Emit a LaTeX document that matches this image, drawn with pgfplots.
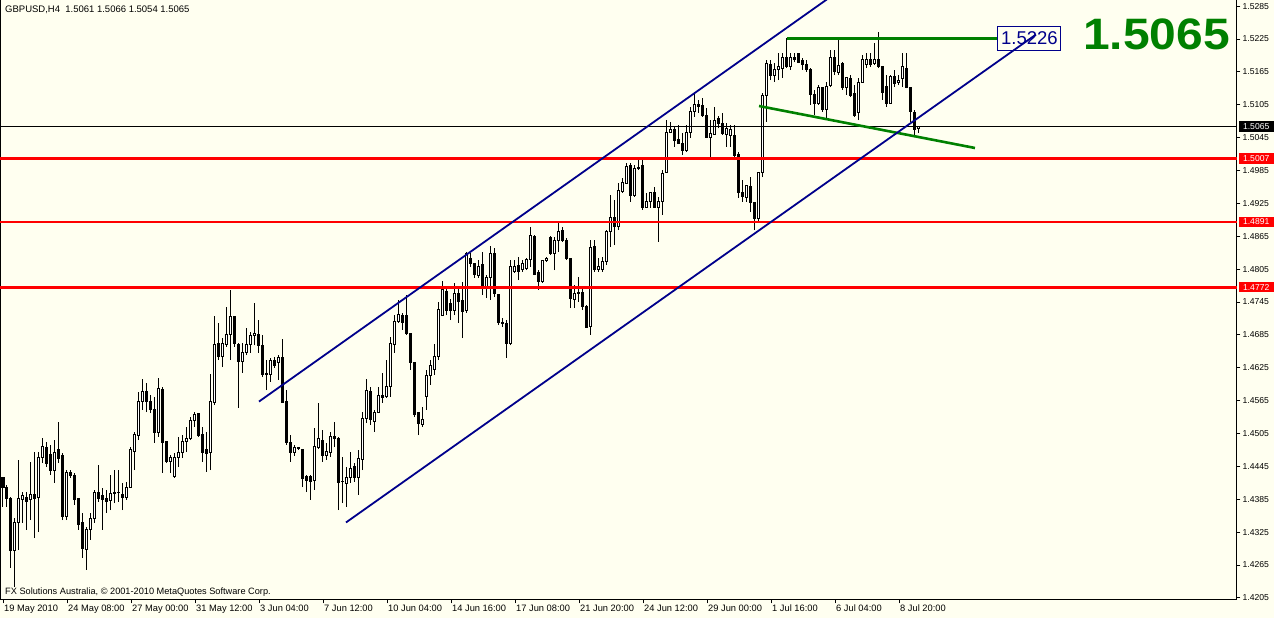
\documentclass[border=0pt]{standalone}
\usepackage{pgfplots}
\pgfplotsset{compat=1.18}
\usepackage{pgfplotstable}
\usepackage{fontspec}
\setmainfont{Liberation Sans}
\definecolor{bgc}{RGB}{255,255,240}
\definecolor{chan}{RGB}{0,0,139}
\definecolor{grn}{RGB}{0,128,0}

\pgfplotstableread{
i o h l c
0 1.4424 1.4426 1.4371 1.4406
1 1.4407 1.4411 1.4371 1.4386
2 1.4386 1.4389 1.4260 1.4291
3 1.4291 1.4351 1.4225 1.4342
4 1.4342 1.4457 1.4292 1.4387
5 1.4384 1.4398 1.4342 1.4391
6 1.4389 1.4398 1.4329 1.4380
7 1.4384 1.4453 1.4347 1.4393
8 1.4393 1.4471 1.4314 1.4386
9 1.4389 1.4471 1.4325 1.4462
10 1.4462 1.4497 1.4451 1.4482
11 1.4480 1.4490 1.4444 1.4451
12 1.4466 1.4484 1.4429 1.4438
13 1.4438 1.4493 1.4415 1.4471
14 1.4475 1.4526 1.4451 1.4460
15 1.4464 1.4470 1.4347 1.4353
16 1.4353 1.4438 1.4347 1.4433
17 1.4433 1.4438 1.4424 1.4429
18 1.4429 1.4433 1.4375 1.4384
19 1.4386 1.4387 1.4329 1.4338
20 1.4342 1.4360 1.4278 1.4296
21 1.4294 1.4334 1.4256 1.4329
22 1.4329 1.4360 1.4311 1.4349
23 1.4349 1.4402 1.4342 1.4397
24 1.4397 1.4448 1.4380 1.4387
25 1.4391 1.4406 1.4329 1.4384
26 1.4386 1.4402 1.4360 1.4380
27 1.4382 1.4429 1.4365 1.4395
28 1.4395 1.4438 1.4378 1.4397
29 1.4397 1.4438 1.4380 1.4398
30 1.4393 1.4415 1.4365 1.4389
31 1.4389 1.4417 1.4384 1.4407
32 1.4407 1.4480 1.4406 1.4475
33 1.4473 1.4508 1.4438 1.4504
34 1.4502 1.4581 1.4493 1.4564
35 1.4563 1.4605 1.4548 1.4581
36 1.4581 1.4597 1.4544 1.4563
37 1.4564 1.4575 1.4542 1.4548
38 1.4548 1.4572 1.4488 1.4506
39 1.4506 1.4606 1.4499 1.4588
40 1.4586 1.4590 1.4433 1.4488
41 1.4490 1.4491 1.4451 1.4453
42 1.4453 1.4466 1.4433 1.4462
43 1.4426 1.4470 1.4424 1.4462
44 1.4462 1.4499 1.4444 1.4470
45 1.4470 1.4502 1.4460 1.4491
46 1.4490 1.4517 1.4471 1.4495
47 1.4495 1.4535 1.4493 1.4528
48 1.4528 1.4544 1.4517 1.4539
49 1.4541 1.4543 1.4499 1.4502
50 1.4504 1.4517 1.4453 1.4471
51 1.4475 1.4508 1.4435 1.4468
52 1.4470 1.4614 1.4438 1.4564
53 1.4561 1.4720 1.4557 1.4668
54 1.4670 1.4707 1.4639 1.4645
55 1.4645 1.4679 1.4626 1.4670
56 1.4668 1.4736 1.4663 1.4685
57 1.4685 1.4767 1.4639 1.4718
58 1.4718 1.4718 1.4663 1.4670
59 1.4668 1.4670 1.4552 1.4636
60 1.4636 1.4670 1.4616 1.4652
61 1.4652 1.4698 1.4648 1.4668
62 1.4668 1.4690 1.4652 1.4683
63 1.4683 1.4743 1.4666 1.4687
64 1.4685 1.4712 1.4652 1.4666
65 1.4665 1.4685 1.4608 1.4612
66 1.4614 1.4639 1.4584 1.4612
67 1.4612 1.4643 1.4599 1.4639
68 1.4639 1.4645 1.4625 1.4630
69 1.4634 1.4648 1.4603 1.4643
70 1.4643 1.4678 1.4561 1.4561
71 1.4563 1.4584 1.4484 1.4488
72 1.4488 1.4502 1.4453 1.4470
73 1.4470 1.4484 1.4464 1.4479
74 1.4477 1.4480 1.4475 1.4479
75 1.4475 1.4475 1.4407 1.4422
76 1.4426 1.4429 1.4398 1.4420
77 1.4427 1.4429 1.4384 1.4418
78 1.4420 1.4515 1.4402 1.4482
79 1.4479 1.4561 1.4477 1.4495
80 1.4493 1.4511 1.4453 1.4464
81 1.4464 1.4488 1.4457 1.4473
82 1.4471 1.4508 1.4462 1.4499
83 1.4499 1.4526 1.4480 1.4495
84 1.4495 1.4499 1.4365 1.4415
85 1.4417 1.4462 1.4378 1.4418
86 1.4413 1.4444 1.4371 1.4424
87 1.4424 1.4471 1.4415 1.4442
88 1.4444 1.4451 1.4417 1.4424
89 1.4424 1.4475 1.4393 1.4459
90 1.4457 1.4544 1.4438 1.4533
91 1.4532 1.4605 1.4524 1.4583
92 1.4581 1.4590 1.4521 1.4530
93 1.4526 1.4548 1.4508 1.4544
94 1.4544 1.4590 1.4542 1.4575
95 1.4575 1.4616 1.4561 1.4570
96 1.4572 1.4639 1.4570 1.4590
97 1.4590 1.4681 1.4572 1.4670
98 1.4668 1.4721 1.4652 1.4710
99 1.4710 1.4749 1.4707 1.4723
100 1.4721 1.4725 1.4694 1.4707
101 1.4720 1.4758 1.4685 1.4688
102 1.4687 1.4688 1.4621 1.4634
103 1.4634 1.4636 1.4535 1.4539
104 1.4543 1.4544 1.4502 1.4524
105 1.4521 1.4553 1.4517 1.4530
106 1.4572 1.4621 1.4548 1.4610
107 1.4610 1.4639 1.4594 1.4630
108 1.4621 1.4668 1.4612 1.4645
109 1.4645 1.4745 1.4639 1.4732
110 1.4721 1.4783 1.4721 1.4767
111 1.4765 1.4771 1.4721 1.4730
112 1.4743 1.4751 1.4712 1.4730
113 1.4730 1.4780 1.4721 1.4760
114 1.4760 1.4772 1.4707 1.4745
115 1.4747 1.4782 1.4679 1.4727
116 1.4730 1.4836 1.4725 1.4834
117 1.4825 1.4834 1.4809 1.4816
118 1.4816 1.4816 1.4789 1.4796
119 1.4794 1.4822 1.4789 1.4809
120 1.4814 1.4836 1.4758 1.4771
121 1.4771 1.4794 1.4752 1.4789
122 1.4789 1.4847 1.4749 1.4834
123 1.4834 1.4844 1.4754 1.4760
124 1.4758 1.4758 1.4703 1.4707
125 1.4707 1.4716 1.4699 1.4705
126 1.4705 1.4712 1.4643 1.4670
127 1.4670 1.4822 1.4666 1.4809
128 1.4800 1.4822 1.4798 1.4809
129 1.4811 1.4827 1.4785 1.4800
130 1.4805 1.4822 1.4800 1.4816
131 1.4807 1.4825 1.4803 1.4822
132 1.4822 1.4882 1.4809 1.4867
133 1.4865 1.4867 1.4794 1.4796
134 1.4798 1.4803 1.4767 1.4782
135 1.4782 1.4822 1.4780 1.4820
136 1.4820 1.4827 1.4818 1.4825
137 1.4862 1.4865 1.4831 1.4834
138 1.4834 1.4864 1.4803 1.4858
139 1.4858 1.4891 1.4836 1.4873
140 1.4876 1.4882 1.4855 1.4858
141 1.4858 1.4862 1.4822 1.4824
142 1.4824 1.4825 1.4734 1.4752
143 1.4749 1.4776 1.4734 1.4760
144 1.4760 1.4791 1.4745 1.4763
145 1.4763 1.4772 1.4730 1.4736
146 1.4736 1.4740 1.4698 1.4699
147 1.4701 1.4858 1.4685 1.4845
148 1.4847 1.4858 1.4800 1.4805
149 1.4805 1.4825 1.4800 1.4809
150 1.4805 1.4827 1.4800 1.4818
151 1.4818 1.4876 1.4813 1.4873
152 1.4873 1.4940 1.4845 1.4900
153 1.4900 1.4931 1.4849 1.4882
154 1.4882 1.4962 1.4876 1.4948
155 1.4946 1.4971 1.4944 1.4964
156 1.4962 1.4999 1.4962 1.4993
157 1.4995 1.4999 1.4928 1.4939
158 1.4940 1.4995 1.4937 1.4988
159 1.4991 1.5004 1.4986 1.4989
160 1.4995 1.5004 1.4913 1.4918
161 1.4918 1.4944 1.4917 1.4929
162 1.4928 1.4946 1.4917 1.4944
163 1.4944 1.4955 1.4917 1.4918
164 1.4918 1.4937 1.4855 1.4928
165 1.4928 1.4986 1.4904 1.4979
166 1.4981 1.5077 1.4981 1.5055
167 1.5055 1.5074 1.5053 1.5059
168 1.5059 1.5064 1.5028 1.5039
169 1.5041 1.5068 1.5035 1.5035
170 1.5035 1.5053 1.5013 1.5022
171 1.5022 1.5068 1.5019 1.5055
172 1.5055 1.5101 1.5044 1.5092
173 1.5092 1.5128 1.5083 1.5106
174 1.5105 1.5114 1.5090 1.5101
175 1.5103 1.5117 1.5083 1.5085
176 1.5086 1.5099 1.5044 1.5046
177 1.5046 1.5077 1.5010 1.5053
178 1.5051 1.5101 1.5050 1.5077
179 1.5079 1.5084 1.5062 1.5071
180 1.5071 1.5090 1.5050 1.5053
181 1.5051 1.5071 1.5028 1.5062
182 1.5048 1.5068 1.5028 1.5059
183 1.5048 1.5068 1.5010 1.5013
184 1.5015 1.5019 1.4935 1.4944
185 1.4944 1.4968 1.4928 1.4937
186 1.4935 1.4958 1.4928 1.4957
187 1.4955 1.4973 1.4909 1.4926
188 1.4926 1.4928 1.4876 1.4897
189 1.4897 1.4982 1.4891 1.4981
190 1.4981 1.5126 1.4973 1.5121
191 1.5121 1.5187 1.5074 1.5181
192 1.5179 1.5187 1.5150 1.5159
193 1.5159 1.5181 1.5147 1.5170
194 1.5170 1.5199 1.5150 1.5174
195 1.5172 1.5199 1.5154 1.5192
196 1.5192 1.5227 1.5172 1.5174
197 1.5174 1.5199 1.5169 1.5192
198 1.5192 1.5199 1.5183 1.5188
199 1.5199 1.5199 1.5181 1.5183
200 1.5185 1.5190 1.5169 1.5179
201 1.5179 1.5187 1.5165 1.5170
202 1.5170 1.5172 1.5105 1.5123
203 1.5123 1.5132 1.5086 1.5108
204 1.5108 1.5141 1.5105 1.5136
205 1.5136 1.5137 1.5092 1.5096
206 1.5096 1.5146 1.5081 1.5139
207 1.5141 1.5205 1.5137 1.5192
208 1.5192 1.5205 1.5159 1.5165
209 1.5163 1.5225 1.5159 1.5176
210 1.5181 1.5183 1.5132 1.5136
211 1.5136 1.5156 1.5123 1.5154
212 1.5152 1.5159 1.5119 1.5121
213 1.5125 1.5141 1.5083 1.5086
214 1.5090 1.5154 1.5077 1.5146
215 1.5146 1.5196 1.5145 1.5188
216 1.5178 1.5199 1.5172 1.5187
217 1.5187 1.5199 1.5174 1.5178
218 1.5181 1.5218 1.5178 1.5187
219 1.5188 1.5238 1.5172 1.5174
220 1.5174 1.5176 1.5114 1.5128
221 1.5139 1.5159 1.5101 1.5108
222 1.5108 1.5159 1.5108 1.5156
223 1.5156 1.5168 1.5137 1.5143
224 1.5145 1.5159 1.5141 1.5150
225 1.5152 1.5199 1.5137 1.5174
226 1.5172 1.5199 1.5135 1.5137
227 1.5137 1.5137 1.5074 1.5092
228 1.5090 1.5096 1.5050 1.5059
229 1.5061 1.5066 1.5054 1.5065
}\ohlc

\pgfplotsset{
  base/.style={width=1237pt, height=600pt, scale only axis,
    xmin=-0.75, xmax=308.5, ymin=1.42011, ymax=1.52962,
    at={(0pt,0pt)}, anchor=south west},
}

\begin{document}
\begin{tikzpicture}
\path[fill=bgc, use as bounding box] (0pt,-18pt) rectangle (1274pt,600pt);

% wicks
\begin{axis}[base, hide axis]
\addplot[draw=none, mark=none,
  error bars/.cd, y dir=plus, y explicit, error mark=none,
  error bar style={draw=black, line width=1pt}]
  table[x=i, y=l, y error expr=\thisrow{h}-\thisrow{l}] {\ohlc};
\end{axis}

% bodies
\begin{axis}[base, hide axis, ybar stacked, bar width=2pt]
\addplot[draw=none, fill=none] table[x=i, y expr={min(\thisrow{o},\thisrow{c})}] {\ohlc};
\addplot[draw=black, line width=1pt, fill=white] table[x=i, y expr={max(\thisrow{c}-\thisrow{o},0)}] {\ohlc};
\addplot[draw=black, line width=1pt, fill=black] table[x=i, y expr={max(\thisrow{o}-\thisrow{c},0)}] {\ohlc};
\end{axis}

% overlays, frame and ticks
\begin{axis}[base,
  axis line style={line width=1pt, black},
  xtick pos=left, ytick pos=right, yticklabel pos=right,
  tick align=outside, major tick length=3.5pt,
  tick style={black, line width=0.8pt},
  xtick={0,16,...,224},
  xticklabels={19 May 2010, 24 May 08:00, 27 May 00:00, 31 May 12:00, 3 Jun 04:00, 7 Jun 12:00, 10 Jun 04:00, 14 Jun 16:00, 17 Jun 08:00, 21 Jun 20:00, 24 Jun 12:00, 29 Jun 00:00, 1 Jul 16:00, 6 Jul 04:00, 8 Jul 20:00},
  xticklabel style={anchor=north west, inner sep=1pt, font=\fontsize{9.3}{10}\selectfont},
  ytick={1.4205,1.4265,1.4325,1.4385,1.4445,1.4505,1.4565,1.4625,1.4685,1.4745,1.4805,1.4865,1.4925,1.4985,1.5045,1.5105,1.5165,1.5225,1.5285},
  scaled y ticks=false,
  yticklabel style={anchor=west, inner sep=2pt, font=\fontsize{8.6}{10}\selectfont,
    /pgf/number format/.cd, fixed, fixed zerofill, precision=4, assume math mode=true},
]
\addplot[black, line width=0.8pt] coordinates {(-0.75,1.5065) (308.5,1.5065)};
\addplot[red, line width=2.6pt] coordinates {(-0.75,1.5007) (308.5,1.5007)};
\addplot[red, line width=2.6pt] coordinates {(-0.75,1.4891) (308.5,1.4891)};
\addplot[red, line width=2.6pt] coordinates {(-0.75,1.4772) (308.5,1.4772)};
\addplot[grn, line width=2.6pt] coordinates {(196,1.5226) (248.75,1.5226)};
\addplot[grn, line width=2.6pt] coordinates {(189,1.51027) (243,1.50261)};
\node[draw=chan, line width=1pt, fill=bgc, text=chan, inner sep=0pt,
  minimum width=63pt, minimum height=24pt, font=\fontsize{18.5}{20}\selectfont]
  at (axis cs:256.6,1.5226) {1.5226};
\addplot[chan, line width=1.8pt] coordinates {(64,1.45633) (206.75,1.53013)};
\addplot[chan, line width=1.8pt] coordinates {(85.75,1.43426) (258.25,1.52332)};
\end{axis}

% price boxes on the right scale
\begin{scope}[every node/.style={anchor=west, inner sep=0pt, minimum width=35pt,
    minimum height=10.5pt, text=white, font=\fontsize{8.6}{10}\selectfont}]
\node[fill=black] at (1238.5pt,473.3pt) {1.5065};
\node[fill=red] at (1238.5pt,441.6pt) {1.5007};
\node[fill=red] at (1238.5pt,378pt) {1.4891};
\node[fill=red] at (1238.5pt,312.8pt) {1.4772};
\end{scope}

\node[anchor=west, inner sep=0pt, font=\fontsize{9.5}{11}\selectfont]
  at (5pt,590pt) {GBPUSD,H4\ \ 1.5061 1.5066 1.5054 1.5065};
\node[anchor=west, inner sep=0pt, font=\fontsize{9.2}{11}\selectfont]
  at (5pt,8pt) {FX Solutions Australia, © 2001-2010 MetaQuotes Software Corp.};
\node[anchor=base, inner sep=0pt, text=grn, xscale=1.09,
  font=\fontsize{44}{44}\selectfont\bfseries] at (1156.5pt,550pt) {1.5065};
\end{tikzpicture}
\end{document}
